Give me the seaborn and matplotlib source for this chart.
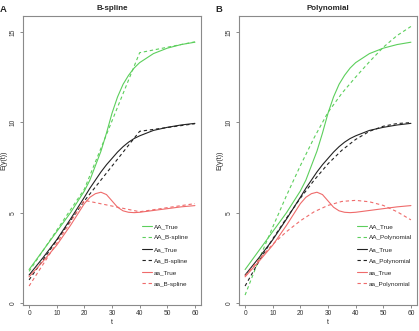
import seaborn as sns
import matplotlib.pyplot as plt
import pandas as pd

# valores
t_true = [0, 5, 10, 15, 20, 22, 24, 26, 28, 30, 32, 34, 36, 38, 40, 45, 50, 55, 60]
AA_true = [1.85, 2.9, 3.95, 5.0, 6.2, 6.8, 7.6, 8.4, 9.4, 10.5, 11.4, 12.1, 12.6, 13.0, 13.3, 13.8, 14.1, 14.3, 14.43]
Aa_true = [1.55, 2.5, 3.5, 4.65, 5.85, 6.35, 6.8, 7.25, 7.65, 8.0, 8.35, 8.65, 8.9, 9.1, 9.25, 9.55, 9.72, 9.85, 9.94]
aa_true = [1.45, 2.3, 3.2, 4.3, 5.5, 5.85, 6.05, 6.13, 6.0, 5.65, 5.3, 5.1, 5.02, 5.0, 5.02, 5.12, 5.22, 5.32, 5.39]

t_spline = [0, 20, 40, 60]
AA_spline = [1.75, 6.3, 13.85, 14.45]
Aa_spline = [1.28, 5.65, 9.5, 9.92]
aa_spline = [0.94, 5.68, 5.05, 5.5]

t_poly = [0, 5, 10, 15, 20, 25, 30, 35, 40, 45, 50, 55, 60]
AA_poly = [0.44, 2.4, 4.2, 5.95, 7.6, 9.15, 10.55, 11.6, 12.5, 13.35, 14.15, 14.8, 15.3]
Aa_poly = [0.94, 2.3, 3.55, 4.7, 5.8, 6.8, 7.7, 8.45, 9.05, 9.5, 9.78, 9.93, 9.98]
aa_poly = [1.5, 2.4, 3.25, 3.95, 4.55, 5.05, 5.4, 5.62, 5.68, 5.6, 5.4, 5.05, 4.6]

x_ticks = [0, 10, 20, 30, 40, 50, 60]
y_ticks = [0, 5, 10, 15]

green = '#5ccf5c'
black = '#222222'
red = '#ef6b6b'
dash = (0, (3, 2.5))

sns.set_style('white')
plt.rcParams['font.family'] = ['Liberation Sans', 'DejaVu Sans']

fig = plt.figure(figsize=(4.19, 3.31), dpi=100)
ax_a = fig.add_axes([23 / 419, 26 / 331, 178 / 419, 289 / 331])
ax_b = fig.add_axes([239 / 419, 26 / 331, 178 / 419, 289 / 331])


def painel(ax, t_fit, fits, nome, leg_x):
    trues = [AA_true, Aa_true, aa_true]
    cores = [green, black, red]
    geno = ['AA', 'Aa', 'aa']
    for g, cor, yt, yf in zip(geno, cores, trues, fits):
        sns.lineplot(x=t_true, y=yt, ax=ax, color=cor, lw=0.8, label=g + '_True')
        sns.lineplot(x=t_fit, y=yf, ax=ax, color=cor, lw=0.8, linestyle=dash,
                     label=g + '_' + nome)
    ax.set_xlim(-2.2, 62.2)
    ax.set_ylim(-0.11, 15.88)
    ax.set_xticks(x_ticks)
    ax.set_yticks(y_ticks)
    ax.tick_params(axis='both', labelsize=4.8, length=2.4, width=0.6, color='#777777',
                   labelcolor='#333333', pad=1.5, bottom=True, left=True)
    ax.tick_params(axis='y', labelrotation=90, pad=2)
    for lab in ax.get_yticklabels():
        lab.set_va('center')
    for s in ax.spines.values():
        s.set_color('#8a8a8a')
        s.set_linewidth(0.8)
    ax.set_xlabel('t', fontsize=5, labelpad=1.2)
    ax.set_ylabel('E(y(t))', fontsize=5, labelpad=2)
    ax.legend(loc='center left', bbox_to_anchor=(leg_x, 0.173), frameon=False,
              fontsize=4.6, handlelength=1.6, handletextpad=0.3, labelspacing=0.95,
              borderpad=0, borderaxespad=0)


painel(ax_a, t_spline, [AA_spline, Aa_spline, aa_spline], 'B-spline', 0.667)
painel(ax_b, t_poly, [AA_poly, Aa_poly, aa_poly], 'Polynomial', 0.661)

fig.text(112 / 419, 1 - 8 / 331, 'B-spline', ha='center', va='center', fontsize=5.8, fontweight='bold')
fig.text(328 / 419, 1 - 8 / 331, 'Polynomial', ha='center', va='center', fontsize=5.8, fontweight='bold')
fig.text(0 / 419, 1 - 10 / 331, 'A', ha='left', va='center', fontsize=6.8, fontweight='bold')
fig.text(215 / 419, 1 - 10 / 331, 'B', ha='left', va='center', fontsize=6.8, fontweight='bold')

fig.savefig('out.png', dpi=100)
